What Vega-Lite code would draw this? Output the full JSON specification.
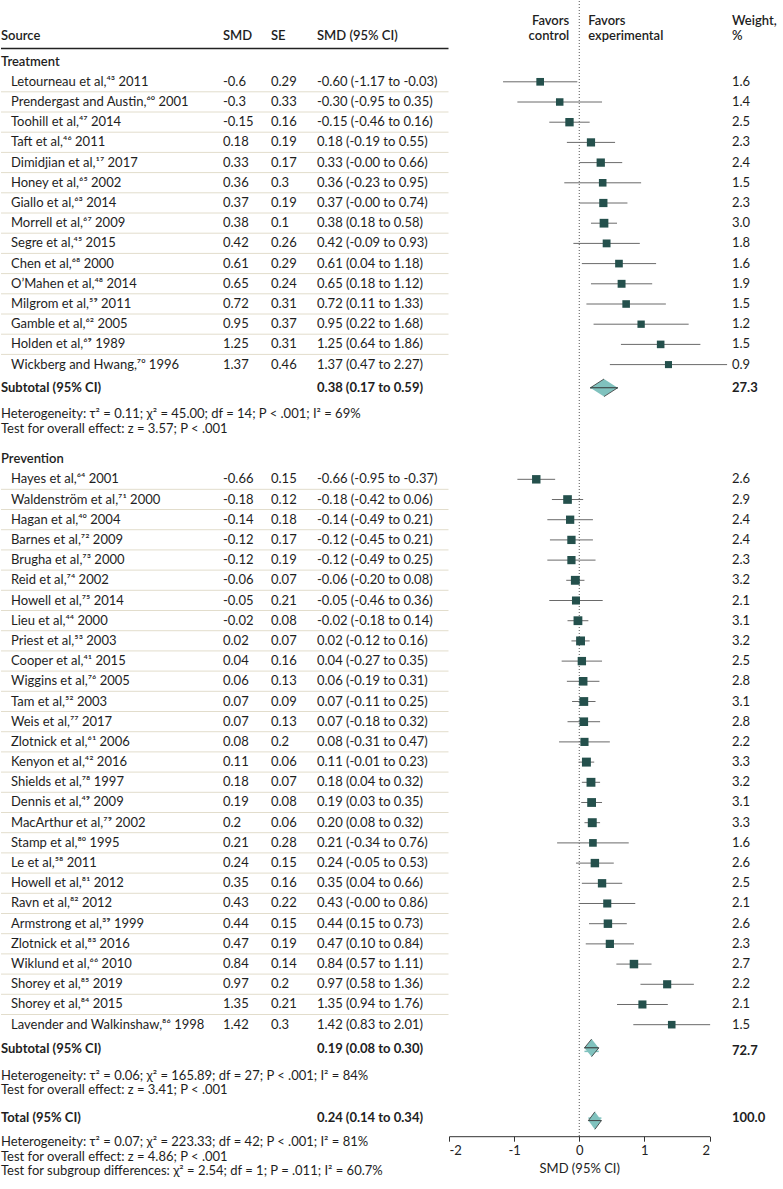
{
"$schema":"https://vega.github.io/schema/vega-lite/v6.json",
"padding":0,
"background":"white",
"config":{"view":{"stroke":null},"font":"Lato","text":{"fontSize":13,"color":"#1e1e1e"}},
"datasets":{
"A":[
{"i":1,"t":"group","src":"Treatment"},
{"i":2,"t":"study","src":"Letourneau et al,⁴³ 2011","smd":"-0.6","se":"0.29","ci":"-0.60 (-1.17 to -0.03)","est":-0.6,"lo":-1.17,"hi":-0.03,"w":1.6},
{"i":3,"t":"study","src":"Prendergast and Austin,⁶⁰ 2001","smd":"-0.3","se":"0.33","ci":"-0.30 (-0.95 to 0.35)","est":-0.3,"lo":-0.95,"hi":0.35,"w":1.4},
{"i":4,"t":"study","src":"Toohill et al,⁴⁷ 2014","smd":"-0.15","se":"0.16","ci":"-0.15 (-0.46 to 0.16)","est":-0.15,"lo":-0.46,"hi":0.16,"w":2.5},
{"i":5,"t":"study","src":"Taft et al,⁴⁶ 2011","smd":"0.18","se":"0.19","ci":"0.18 (-0.19 to 0.55)","est":0.18,"lo":-0.19,"hi":0.55,"w":2.3},
{"i":6,"t":"study","src":"Dimidjian et al,¹⁷ 2017","smd":"0.33","se":"0.17","ci":"0.33 (-0.00 to 0.66)","est":0.33,"lo":0.0,"hi":0.66,"w":2.4},
{"i":7,"t":"study","src":"Honey et al,⁶⁵ 2002","smd":"0.36","se":"0.3","ci":"0.36 (-0.23 to 0.95)","est":0.36,"lo":-0.23,"hi":0.95,"w":1.5},
{"i":8,"t":"study","src":"Giallo et al,⁶³ 2014","smd":"0.37","se":"0.19","ci":"0.37 (-0.00 to 0.74)","est":0.37,"lo":0.0,"hi":0.74,"w":2.3},
{"i":9,"t":"study","src":"Morrell et al,⁶⁷ 2009","smd":"0.38","se":"0.1","ci":"0.38 (0.18 to 0.58)","est":0.38,"lo":0.18,"hi":0.58,"w":3.0},
{"i":10,"t":"study","src":"Segre et al,⁴⁵ 2015","smd":"0.42","se":"0.26","ci":"0.42 (-0.09 to 0.93)","est":0.42,"lo":-0.09,"hi":0.93,"w":1.8},
{"i":11,"t":"study","src":"Chen et al,⁶⁸ 2000","smd":"0.61","se":"0.29","ci":"0.61 (0.04 to 1.18)","est":0.61,"lo":0.04,"hi":1.18,"w":1.6},
{"i":12,"t":"study","src":"O’Mahen et al,⁴⁸ 2014","smd":"0.65","se":"0.24","ci":"0.65 (0.18 to 1.12)","est":0.65,"lo":0.18,"hi":1.12,"w":1.9},
{"i":13,"t":"study","src":"Milgrom et al,⁵⁹ 2011","smd":"0.72","se":"0.31","ci":"0.72 (0.11 to 1.33)","est":0.72,"lo":0.11,"hi":1.33,"w":1.5},
{"i":14,"t":"study","src":"Gamble et al,⁶² 2005","smd":"0.95","se":"0.37","ci":"0.95 (0.22 to 1.68)","est":0.95,"lo":0.22,"hi":1.68,"w":1.2},
{"i":15,"t":"study","src":"Holden et al,⁶⁹ 1989","smd":"1.25","se":"0.31","ci":"1.25 (0.64 to 1.86)","est":1.25,"lo":0.64,"hi":1.86,"w":1.5},
{"i":16,"t":"study","src":"Wickberg and Hwang,⁷⁰ 1996","smd":"1.37","se":"0.46","ci":"1.37 (0.47 to 2.27)","est":1.37,"lo":0.47,"hi":2.27,"w":0.9},
{"i":17,"t":"sub","src":"Subtotal (95% CI)","ci":"0.38 (0.17 to 0.59)","est":0.38,"lo":0.17,"hi":0.59,"w":27.3},
{"i":18,"t":"het","src":"Heterogeneity: τ² = 0.11; χ² = 45.00; df = 14; P < .001; I² = 69%\nTest for overall effect: z = 3.57; P < .001"}
],
"B":[
{"i":-1,"t":"group","src":"Prevention"},
{"i":0,"t":"study","src":"Hayes et al,⁶⁴ 2001","smd":"-0.66","se":"0.15","ci":"-0.66 (-0.95 to -0.37)","est":-0.66,"lo":-0.95,"hi":-0.37,"w":2.6},
{"i":1,"t":"study","src":"Waldenström et al,⁷¹ 2000","smd":"-0.18","se":"0.12","ci":"-0.18 (-0.42 to 0.06)","est":-0.18,"lo":-0.42,"hi":0.06,"w":2.9},
{"i":2,"t":"study","src":"Hagan et al,⁴⁰ 2004","smd":"-0.14","se":"0.18","ci":"-0.14 (-0.49 to 0.21)","est":-0.14,"lo":-0.49,"hi":0.21,"w":2.4},
{"i":3,"t":"study","src":"Barnes et al,⁷² 2009","smd":"-0.12","se":"0.17","ci":"-0.12 (-0.45 to 0.21)","est":-0.12,"lo":-0.45,"hi":0.21,"w":2.4},
{"i":4,"t":"study","src":"Brugha et al,⁷³ 2000","smd":"-0.12","se":"0.19","ci":"-0.12 (-0.49 to 0.25)","est":-0.12,"lo":-0.49,"hi":0.25,"w":2.3},
{"i":5,"t":"study","src":"Reid et al,⁷⁴ 2002","smd":"-0.06","se":"0.07","ci":"-0.06 (-0.20 to 0.08)","est":-0.06,"lo":-0.2,"hi":0.08,"w":3.2},
{"i":6,"t":"study","src":"Howell et al,⁷⁵ 2014","smd":"-0.05","se":"0.21","ci":"-0.05 (-0.46 to 0.36)","est":-0.05,"lo":-0.46,"hi":0.36,"w":2.1},
{"i":7,"t":"study","src":"Lieu et al,⁴⁴ 2000","smd":"-0.02","se":"0.08","ci":"-0.02 (-0.18 to 0.14)","est":-0.02,"lo":-0.18,"hi":0.14,"w":3.1},
{"i":8,"t":"study","src":"Priest et al,⁵³ 2003","smd":"0.02","se":"0.07","ci":"0.02 (-0.12 to 0.16)","est":0.02,"lo":-0.12,"hi":0.16,"w":3.2},
{"i":9,"t":"study","src":"Cooper et al,⁴¹ 2015","smd":"0.04","se":"0.16","ci":"0.04 (-0.27 to 0.35)","est":0.04,"lo":-0.27,"hi":0.35,"w":2.5},
{"i":10,"t":"study","src":"Wiggins et al,⁷⁶ 2005","smd":"0.06","se":"0.13","ci":"0.06 (-0.19 to 0.31)","est":0.06,"lo":-0.19,"hi":0.31,"w":2.8},
{"i":11,"t":"study","src":"Tam et al,⁵² 2003","smd":"0.07","se":"0.09","ci":"0.07 (-0.11 to 0.25)","est":0.07,"lo":-0.11,"hi":0.25,"w":3.1},
{"i":12,"t":"study","src":"Weis et al,⁷⁷ 2017","smd":"0.07","se":"0.13","ci":"0.07 (-0.18 to 0.32)","est":0.07,"lo":-0.18,"hi":0.32,"w":2.8},
{"i":13,"t":"study","src":"Zlotnick et al,⁶¹ 2006","smd":"0.08","se":"0.2","ci":"0.08 (-0.31 to 0.47)","est":0.08,"lo":-0.31,"hi":0.47,"w":2.2},
{"i":14,"t":"study","src":"Kenyon et al,⁴² 2016","smd":"0.11","se":"0.06","ci":"0.11 (-0.01 to 0.23)","est":0.11,"lo":-0.01,"hi":0.23,"w":3.3},
{"i":15,"t":"study","src":"Shields et al,⁷⁸ 1997","smd":"0.18","se":"0.07","ci":"0.18 (0.04 to 0.32)","est":0.18,"lo":0.04,"hi":0.32,"w":3.2},
{"i":16,"t":"study","src":"Dennis et al,⁴⁹ 2009","smd":"0.19","se":"0.08","ci":"0.19 (0.03 to 0.35)","est":0.19,"lo":0.03,"hi":0.35,"w":3.1},
{"i":17,"t":"study","src":"MacArthur et al,⁷⁹ 2002","smd":"0.2","se":"0.06","ci":"0.20 (0.08 to 0.32)","est":0.2,"lo":0.08,"hi":0.32,"w":3.3},
{"i":18,"t":"study","src":"Stamp et al,⁸⁰ 1995","smd":"0.21","se":"0.28","ci":"0.21 (-0.34 to 0.76)","est":0.21,"lo":-0.34,"hi":0.76,"w":1.6},
{"i":19,"t":"study","src":"Le et al,⁵⁸ 2011","smd":"0.24","se":"0.15","ci":"0.24 (-0.05 to 0.53)","est":0.24,"lo":-0.05,"hi":0.53,"w":2.6},
{"i":20,"t":"study","src":"Howell et al,⁸¹ 2012","smd":"0.35","se":"0.16","ci":"0.35 (0.04 to 0.66)","est":0.35,"lo":0.04,"hi":0.66,"w":2.5},
{"i":21,"t":"study","src":"Ravn et al,⁸² 2012","smd":"0.43","se":"0.22","ci":"0.43 (-0.00 to 0.86)","est":0.43,"lo":0.0,"hi":0.86,"w":2.1},
{"i":22,"t":"study","src":"Armstrong et al,³⁹ 1999","smd":"0.44","se":"0.15","ci":"0.44 (0.15 to 0.73)","est":0.44,"lo":0.15,"hi":0.73,"w":2.6},
{"i":23,"t":"study","src":"Zlotnick et al,⁸³ 2016","smd":"0.47","se":"0.19","ci":"0.47 (0.10 to 0.84)","est":0.47,"lo":0.1,"hi":0.84,"w":2.3},
{"i":24,"t":"study","src":"Wiklund et al,⁶⁶ 2010","smd":"0.84","se":"0.14","ci":"0.84 (0.57 to 1.11)","est":0.84,"lo":0.57,"hi":1.11,"w":2.7},
{"i":25,"t":"study","src":"Shorey et al,⁸⁵ 2019","smd":"0.97","se":"0.2","ci":"0.97 (0.58 to 1.36)","est":1.35,"lo":0.94,"hi":1.76,"w":2.2},
{"i":26,"t":"study","src":"Shorey et al,⁸⁴ 2015","smd":"1.35","se":"0.21","ci":"1.35 (0.94 to 1.76)","est":0.97,"lo":0.58,"hi":1.36,"w":2.1},
{"i":27,"t":"study","src":"Lavender and Walkinshaw,⁸⁶ 1998","smd":"1.42","se":"0.3","ci":"1.42 (0.83 to 2.01)","est":1.42,"lo":0.83,"hi":2.01,"w":1.5},
{"i":28,"t":"sub","src":"Subtotal (95% CI)","ci":"0.19 (0.08 to 0.30)","est":0.19,"lo":0.08,"hi":0.3,"w":72.7},
{"i":29,"t":"het","src":"Heterogeneity: τ² = 0.06; χ² = 165.89; df = 27; P < .001; I² = 84%\nTest for overall effect: z = 3.41; P < .001"}
],
"C":[
{"i":0,"t":"total","src":"Total (95% CI)","ci":"0.24 (0.14 to 0.34)","est":0.24,"lo":0.14,"hi":0.34,"w":100},
{"i":1,"t":"het","src":"Heterogeneity: τ² = 0.07; χ² = 223.33; df = 42; P < .001; I² = 81%\nTest for overall effect: z = 4.86; P < .001\nTest for subgroup differences: χ² = 2.54; df = 1; P = .011; I² = 60.7%"}
],
"upper":[{"k":"lo","role":"edge"},{"k":"est","role":"top"},{"k":"hi","role":"edge"}],
"lower":[{"k":"lo","role":"edge"},{"k":"est","role":"bottom"},{"k":"hi","role":"edge"}]
},
"spacing":0,
"vconcat":[
{"spacing":0,"bounds":"flush","hconcat":[
{"width":222,"height":444.4,"data":{"name":"A"},
"encoding":{"x":{"datum":0,"type":"quantitative","scale":{"domain":[0,1],"nice":false,"zero":false},"axis":null},"y":{"field":"i","type":"quantitative","scale":{"domain":[-2,20],"reverse":true,"nice":false,"zero":false},"axis":null}},
"layer":[
{"data":{"values":[{"i":0,"h":"Source"}]},"mark":{"type":"text","align":"left","fontWeight":600,"dy":-5},"encoding":{"text":{"field":"h"}}},
{"data":{"values":[{"i":0}]},"mark":{"type":"rule","yOffset":7,"strokeWidth":1.5,"color":"#222"},"encoding":{"x2":{"datum":1}}},
{"transform":[{"filter":"datum.t==='study' && datum.i<16"}],"mark":{"type":"rule","yOffset":10,"strokeWidth":1,"color":"#e2ddcc"},"encoding":{"x2":{"datum":1}}},
{"transform":[{"filter":"datum.t==='group'"}],"mark":{"type":"text","align":"left","fontWeight":600},"encoding":{"text":{"field":"src"}}},
{"transform":[{"filter":"datum.t==='study'"}],"mark":{"type":"text","align":"left","dx":10},"encoding":{"text":{"field":"src"}}},
{"transform":[{"filter":"datum.t==='sub'"}],"mark":{"type":"text","align":"left","fontWeight":"bold","dy":3},"encoding":{"text":{"field":"src"}}},
{"transform":[{"filter":"datum.t==='het'"}],"mark":{"type":"text","align":"left","lineBreak":"\n","lineHeight":14.5,"dy":9},"encoding":{"text":{"field":"src"}}}
]},
{"width":48,"height":444.4,"data":{"name":"A"},
"encoding":{"x":{"datum":0,"type":"quantitative","scale":{"domain":[0,1],"nice":false,"zero":false},"axis":null},"y":{"field":"i","type":"quantitative","scale":{"domain":[-2,20],"reverse":true,"nice":false,"zero":false},"axis":null}},
"layer":[
{"data":{"values":[{"i":0,"h":"SMD"}]},"mark":{"type":"text","align":"left","fontWeight":600,"dy":-5},"encoding":{"text":{"field":"h"}}},
{"data":{"values":[{"i":0}]},"mark":{"type":"rule","yOffset":7,"strokeWidth":1.5,"color":"#222"},"encoding":{"x2":{"datum":1}}},
{"transform":[{"filter":"datum.t==='study' && datum.i<16"}],"mark":{"type":"rule","yOffset":10,"strokeWidth":1,"color":"#e2ddcc"},"encoding":{"x2":{"datum":1}}},
{"transform":[{"filter":"datum.t==='study'"}],"mark":{"type":"text","align":"left"},"encoding":{"text":{"field":"smd"}}}
]},
{"width":46,"height":444.4,"data":{"name":"A"},
"encoding":{"x":{"datum":0,"type":"quantitative","scale":{"domain":[0,1],"nice":false,"zero":false},"axis":null},"y":{"field":"i","type":"quantitative","scale":{"domain":[-2,20],"reverse":true,"nice":false,"zero":false},"axis":null}},
"layer":[
{"data":{"values":[{"i":0,"h":"SE"}]},"mark":{"type":"text","align":"left","fontWeight":600,"dy":-5},"encoding":{"text":{"field":"h"}}},
{"data":{"values":[{"i":0}]},"mark":{"type":"rule","yOffset":7,"strokeWidth":1.5,"color":"#222"},"encoding":{"x2":{"datum":1}}},
{"transform":[{"filter":"datum.t==='study' && datum.i<16"}],"mark":{"type":"rule","yOffset":10,"strokeWidth":1,"color":"#e2ddcc"},"encoding":{"x2":{"datum":1}}},
{"transform":[{"filter":"datum.t==='study'"}],"mark":{"type":"text","align":"left"},"encoding":{"text":{"field":"se"}}}
]},
{"width":131.5,"height":444.4,"data":{"name":"A"},
"encoding":{"x":{"datum":0,"type":"quantitative","scale":{"domain":[0,1],"nice":false,"zero":false},"axis":null},"y":{"field":"i","type":"quantitative","scale":{"domain":[-2,20],"reverse":true,"nice":false,"zero":false},"axis":null}},
"layer":[
{"data":{"values":[{"i":0,"h":"SMD (95% CI)"}]},"mark":{"type":"text","align":"left","fontWeight":600,"dy":-5},"encoding":{"text":{"field":"h"}}},
{"data":{"values":[{"i":0}]},"mark":{"type":"rule","yOffset":7,"strokeWidth":1.5,"color":"#222"},"encoding":{"x2":{"datum":1}}},
{"transform":[{"filter":"datum.t==='study' && datum.i<16"}],"mark":{"type":"rule","yOffset":10,"strokeWidth":1,"color":"#e2ddcc"},"encoding":{"x2":{"datum":1}}},
{"transform":[{"filter":"datum.t==='study'"}],"mark":{"type":"text","align":"left"},"encoding":{"text":{"field":"ci"}}},
{"transform":[{"filter":"datum.t==='sub'"}],"mark":{"type":"text","align":"left","fontWeight":"bold","dy":3},"encoding":{"text":{"field":"ci"}}}
]},
{"width":260.5,"height":444.4,"data":{"name":"A"},
"layer":[
{"data":{"values":[{"z":0}]},"mark":{"type":"rule","strokeDash":[1,2],"color":"#555"},"encoding":{"x":{"datum":0,"type":"quantitative","scale":{"domain":[-2,2],"nice":false,"zero":false},"axis":null}}},
{"data":{"values":[{"i":0,"h":"Favors\ncontrol"}]},"mark":{"type":"text","align":"right","dx":-10,"dy":-20,"lineBreak":"\n","lineHeight":15,"fontWeight":600},"encoding":{"x":{"datum":0,"type":"quantitative"},"y":{"field":"i","type":"ordinal","scale":{"type":"point","domain":[-2,-1,0,1,2,3,4,5,6,7,8,9,10,11,12,13,14,15,16,17,18,19,20],"padding":0},"axis":null},"text":{"field":"h"}}},
{"data":{"values":[{"i":0,"h":"Favors\nexperimental"}]},"mark":{"type":"text","align":"left","dx":9,"dy":-20,"lineBreak":"\n","lineHeight":15,"fontWeight":600},"encoding":{"x":{"datum":0,"type":"quantitative"},"y":{"field":"i","type":"ordinal","scale":{"type":"point","domain":[-2,-1,0,1,2,3,4,5,6,7,8,9,10,11,12,13,14,15,16,17,18,19,20],"padding":0},"axis":null},"text":{"field":"h"}}},
{"transform":[{"filter":"datum.t==='study'"}],"mark":{"type":"rule","color":"#6a6a6a","strokeWidth":1},"encoding":{"x":{"field":"lo","type":"quantitative"},"x2":{"field":"hi"},"y":{"field":"i","type":"ordinal","scale":{"type":"point","domain":[-2,-1,0,1,2,3,4,5,6,7,8,9,10,11,12,13,14,15,16,17,18,19,20],"padding":0},"axis":null}}},
{"transform":[{"filter":"datum.t==='study'"}],"mark":{"type":"point","shape":"square","filled":true,"color":"#24504c","opacity":1},"encoding":{"x":{"field":"est","type":"quantitative"},"y":{"field":"i","type":"ordinal","scale":{"type":"point","domain":[-2,-1,0,1,2,3,4,5,6,7,8,9,10,11,12,13,14,15,16,17,18,19,20],"padding":0},"axis":null},"size":{"field":"w","type":"quantitative","scale":{"domain":[0.9,3.3],"range":[50,80],"zero":false},"legend":null}}},
{"transform":[{"filter":"datum.t==='sub'"}],"mark":{"type":"rule","color":"#80c2be","strokeWidth":1.5,"yOffset":3},"encoding":{"x":{"field":"lo","type":"quantitative"},"x2":{"field":"hi"},"y":{"field":"i","type":"ordinal","scale":{"type":"point","domain":[-2,-1,0,1,2,3,4,5,6,7,8,9,10,11,12,13,14,15,16,17,18,19,20],"padding":0},"axis":null}}},
{"transform":[{"filter":"datum.t==='sub'"},{"fold":["lo","est","hi"],"as":["k","v"]},{"lookup":"k","from":{"data":{"name":"upper"},"key":"k","fields":["role"]}}],"mark":{"type":"line","fill":"#80c2be","stroke":"#333","strokeWidth":0.8},"encoding":{"x":{"field":"v","type":"quantitative"},"y":{"field":"i","type":"ordinal","scale":{"type":"point","domain":[-2,-1,0,1,2,3,4,5,6,7,8,9,10,11,12,13,14,15,16,17,18,19,20],"padding":0},"axis":null},"yOffset":{"field":"role","type":"nominal","scale":{"type":"point","domain":["top","edge","bottom"],"range":[-5.8,11.8],"padding":0}}}},
{"transform":[{"filter":"datum.t==='sub'"},{"fold":["lo","est","hi"],"as":["k","v"]},{"lookup":"k","from":{"data":{"name":"lower"},"key":"k","fields":["role"]}}],"mark":{"type":"line","fill":"#80c2be","stroke":"#333","strokeWidth":0.8},"encoding":{"x":{"field":"v","type":"quantitative"},"y":{"field":"i","type":"ordinal","scale":{"type":"point","domain":[-2,-1,0,1,2,3,4,5,6,7,8,9,10,11,12,13,14,15,16,17,18,19,20],"padding":0},"axis":null},"yOffset":{"field":"role","type":"nominal","scale":{"type":"point","domain":["top","edge","bottom"],"range":[-5.8,11.8],"padding":0}}}}
]},
{"width":75,"height":444.4,"data":{"name":"A"},
"encoding":{"x":{"datum":0,"type":"quantitative","scale":{"domain":[0,1],"nice":false,"zero":false},"axis":null},"y":{"field":"i","type":"quantitative","scale":{"domain":[-2,20],"reverse":true,"nice":false,"zero":false},"axis":null}},
"layer":[
{"data":{"values":[{"i":0,"h":"Weight,\n%"}]},"mark":{"type":"text","align":"left","dx":22,"dy":-20,"lineBreak":"\n","lineHeight":15,"fontWeight":600},"encoding":{"text":{"field":"h"}}},
{"transform":[{"filter":"datum.t==='study'"}],"mark":{"type":"text","align":"left","dx":22},"encoding":{"text":{"field":"w","type":"quantitative","format":".1f"}}},
{"transform":[{"filter":"datum.t==='sub'"}],"mark":{"type":"text","align":"left","dx":22,"dy":3,"fontWeight":"bold"},"encoding":{"text":{"field":"w","type":"quantitative","format":".1f"}}}
]}
]},
{"spacing":0,"bounds":"flush","hconcat":[
{"width":222,"height":650.4,"data":{"name":"B"},
"encoding":{"x":{"datum":0,"type":"quantitative","scale":{"domain":[0,1],"nice":false,"zero":false},"axis":null},"y":{"field":"i","type":"quantitative","scale":{"domain":[-1.6,30.6],"reverse":true,"nice":false,"zero":false},"axis":null}},
"layer":[
{"transform":[{"filter":"datum.t==='study' && datum.i<27"}],"mark":{"type":"rule","yOffset":10,"strokeWidth":1,"color":"#e2ddcc"},"encoding":{"x2":{"datum":1}}},
{"transform":[{"filter":"datum.t==='group'"}],"mark":{"type":"text","align":"left","fontWeight":600},"encoding":{"text":{"field":"src"}}},
{"transform":[{"filter":"datum.t==='study'"}],"mark":{"type":"text","align":"left","dx":10},"encoding":{"text":{"field":"src"}}},
{"transform":[{"filter":"datum.t==='sub'"}],"mark":{"type":"text","align":"left","fontWeight":"bold","dy":4.5},"encoding":{"text":{"field":"src"}}},
{"transform":[{"filter":"datum.t==='het'"}],"mark":{"type":"text","align":"left","lineBreak":"\n","lineHeight":14.5,"dy":10.5},"encoding":{"text":{"field":"src"}}}
]},
{"width":48,"height":650.4,"data":{"name":"B"},
"encoding":{"x":{"datum":0,"type":"quantitative","scale":{"domain":[0,1],"nice":false,"zero":false},"axis":null},"y":{"field":"i","type":"quantitative","scale":{"domain":[-1.6,30.6],"reverse":true,"nice":false,"zero":false},"axis":null}},
"layer":[
{"transform":[{"filter":"datum.t==='study' && datum.i<27"}],"mark":{"type":"rule","yOffset":10,"strokeWidth":1,"color":"#e2ddcc"},"encoding":{"x2":{"datum":1}}},
{"transform":[{"filter":"datum.t==='study'"}],"mark":{"type":"text","align":"left"},"encoding":{"text":{"field":"smd"}}}
]},
{"width":46,"height":650.4,"data":{"name":"B"},
"encoding":{"x":{"datum":0,"type":"quantitative","scale":{"domain":[0,1],"nice":false,"zero":false},"axis":null},"y":{"field":"i","type":"quantitative","scale":{"domain":[-1.6,30.6],"reverse":true,"nice":false,"zero":false},"axis":null}},
"layer":[
{"transform":[{"filter":"datum.t==='study' && datum.i<27"}],"mark":{"type":"rule","yOffset":10,"strokeWidth":1,"color":"#e2ddcc"},"encoding":{"x2":{"datum":1}}},
{"transform":[{"filter":"datum.t==='study'"}],"mark":{"type":"text","align":"left"},"encoding":{"text":{"field":"se"}}}
]},
{"width":131.5,"height":650.4,"data":{"name":"B"},
"encoding":{"x":{"datum":0,"type":"quantitative","scale":{"domain":[0,1],"nice":false,"zero":false},"axis":null},"y":{"field":"i","type":"quantitative","scale":{"domain":[-1.6,30.6],"reverse":true,"nice":false,"zero":false},"axis":null}},
"layer":[
{"transform":[{"filter":"datum.t==='study' && datum.i<27"}],"mark":{"type":"rule","yOffset":10,"strokeWidth":1,"color":"#e2ddcc"},"encoding":{"x2":{"datum":1}}},
{"transform":[{"filter":"datum.t==='study'"}],"mark":{"type":"text","align":"left"},"encoding":{"text":{"field":"ci"}}},
{"transform":[{"filter":"datum.t==='sub'"}],"mark":{"type":"text","align":"left","fontWeight":"bold","dy":4.5},"encoding":{"text":{"field":"ci"}}}
]},
{"width":260.5,"height":650.4,"data":{"name":"B"},
"layer":[
{"data":{"values":[{"z":0}]},"mark":{"type":"rule","strokeDash":[1,2],"color":"#555"},"encoding":{"x":{"datum":0,"type":"quantitative","scale":{"domain":[-2,2],"nice":false,"zero":false},"axis":null}}},
{"transform":[{"filter":"datum.t==='study'"}],"mark":{"type":"rule","color":"#6a6a6a","strokeWidth":1},"encoding":{"x":{"field":"lo","type":"quantitative"},"x2":{"field":"hi"},"y":{"field":"i","type":"ordinal","scale":{"type":"point","domain":[-1,0,1,2,3,4,5,6,7,8,9,10,11,12,13,14,15,16,17,18,19,20,21,22,23,24,25,26,27,28,29,30],"padding":0.6},"axis":null}}},
{"transform":[{"filter":"datum.t==='study'"}],"mark":{"type":"point","shape":"square","filled":true,"color":"#24504c","opacity":1},"encoding":{"x":{"field":"est","type":"quantitative"},"y":{"field":"i","type":"ordinal","scale":{"type":"point","domain":[-1,0,1,2,3,4,5,6,7,8,9,10,11,12,13,14,15,16,17,18,19,20,21,22,23,24,25,26,27,28,29,30],"padding":0.6},"axis":null},"size":{"field":"w","type":"quantitative","scale":{"domain":[0.9,3.3],"range":[50,80],"zero":false},"legend":null}}},
{"transform":[{"filter":"datum.t==='sub'"}],"mark":{"type":"rule","color":"#80c2be","strokeWidth":1.5,"yOffset":6.5},"encoding":{"x":{"field":"lo","type":"quantitative"},"x2":{"field":"hi"},"y":{"field":"i","type":"ordinal","scale":{"type":"point","domain":[-1,0,1,2,3,4,5,6,7,8,9,10,11,12,13,14,15,16,17,18,19,20,21,22,23,24,25,26,27,28,29,30],"padding":0.6},"axis":null}}},
{"transform":[{"filter":"datum.t==='sub'"},{"fold":["lo","est","hi"],"as":["k","v"]},{"lookup":"k","from":{"data":{"name":"upper"},"key":"k","fields":["role"]}}],"mark":{"type":"line","fill":"#80c2be","stroke":"#333","strokeWidth":0.8},"encoding":{"x":{"field":"v","type":"quantitative"},"y":{"field":"i","type":"ordinal","scale":{"type":"point","domain":[-1,0,1,2,3,4,5,6,7,8,9,10,11,12,13,14,15,16,17,18,19,20,21,22,23,24,25,26,27,28,29,30],"padding":0.6},"axis":null},"yOffset":{"field":"role","type":"nominal","scale":{"type":"point","domain":["top","edge","bottom"],"range":[-1.5,14.5],"padding":0}}}},
{"transform":[{"filter":"datum.t==='sub'"},{"fold":["lo","est","hi"],"as":["k","v"]},{"lookup":"k","from":{"data":{"name":"lower"},"key":"k","fields":["role"]}}],"mark":{"type":"line","fill":"#80c2be","stroke":"#333","strokeWidth":0.8},"encoding":{"x":{"field":"v","type":"quantitative"},"y":{"field":"i","type":"ordinal","scale":{"type":"point","domain":[-1,0,1,2,3,4,5,6,7,8,9,10,11,12,13,14,15,16,17,18,19,20,21,22,23,24,25,26,27,28,29,30],"padding":0.6},"axis":null},"yOffset":{"field":"role","type":"nominal","scale":{"type":"point","domain":["top","edge","bottom"],"range":[-1.5,14.5],"padding":0}}}}
]},
{"width":75,"height":650.4,"data":{"name":"B"},
"encoding":{"x":{"datum":0,"type":"quantitative","scale":{"domain":[0,1],"nice":false,"zero":false},"axis":null},"y":{"field":"i","type":"quantitative","scale":{"domain":[-1.6,30.6],"reverse":true,"nice":false,"zero":false},"axis":null}},
"layer":[
{"transform":[{"filter":"datum.t==='study'"}],"mark":{"type":"text","align":"left","dx":22},"encoding":{"text":{"field":"w","type":"quantitative","format":".1f"}}},
{"transform":[{"filter":"datum.t==='sub'"}],"mark":{"type":"text","align":"left","dx":22,"dy":6.5,"fontWeight":"bold"},"encoding":{"text":{"field":"w","type":"quantitative","format":".1f"}}}
]}
]},
{"spacing":0,"bounds":"flush","hconcat":[
{"width":316,"height":37.2,"data":{"name":"C"},
"encoding":{"x":{"datum":0,"type":"quantitative","scale":{"domain":[0,1],"nice":false,"zero":false},"axis":null},"y":{"field":"i","type":"quantitative","scale":{"domain":[-0.92,0.92],"reverse":true,"nice":false,"zero":false},"axis":null}},
"layer":[
{"transform":[{"filter":"datum.t==='total'"}],"mark":{"type":"text","align":"left","fontWeight":"bold"},"encoding":{"text":{"field":"src"}}},
{"transform":[{"filter":"datum.t==='het'"}],"mark":{"type":"text","align":"left","lineBreak":"\n","lineHeight":14.5,"dy":4.5},"encoding":{"text":{"field":"src"}}}
]},
{"width":131.5,"height":37.2,"data":{"name":"C"},
"encoding":{"x":{"datum":0,"type":"quantitative","scale":{"domain":[0,1],"nice":false,"zero":false},"axis":null},"y":{"field":"i","type":"quantitative","scale":{"domain":[-0.92,0.92],"reverse":true,"nice":false,"zero":false},"axis":null}},
"layer":[
{"transform":[{"filter":"datum.t==='total'"}],"mark":{"type":"text","align":"left","fontWeight":"bold"},"encoding":{"text":{"field":"ci"}}}
]},
{"width":260.5,"height":37.2,"data":{"name":"C"},
"layer":[
{"data":{"values":[{"z":0}]},"mark":{"type":"rule","strokeDash":[1,2],"color":"#555"},"encoding":{"x":{"datum":0,"type":"quantitative","scale":{"domain":[-2,2],"nice":false,"zero":false},"axis":{"values":[-2,-1,0,1,2],"title":"SMD (95% CI)","grid":false,"domainColor":"#333","tickColor":"#333","tickSize":5,"labelFontSize":13,"titleFontSize":13,"titleFontWeight":"normal","labelColor":"#222","titleColor":"#222","labelExpr":"'' + datum.value","labelPadding":3,"titlePadding":5,"labelFont":"Lato","titleFont":"Lato"}}}},
{"transform":[{"filter":"datum.t==='total'"}],"mark":{"type":"rule","color":"#80c2be","strokeWidth":1.5,"yOffset":0.5},"encoding":{"x":{"field":"lo","type":"quantitative"},"x2":{"field":"hi"},"y":{"field":"i","type":"ordinal","scale":{"type":"point","domain":[0],"padding":0.9},"axis":null}}},
{"transform":[{"filter":"datum.t==='total'"},{"fold":["lo","est","hi"],"as":["k","v"]},{"lookup":"k","from":{"data":{"name":"upper"},"key":"k","fields":["role"]}}],"mark":{"type":"line","fill":"#80c2be","stroke":"#333","strokeWidth":0.8},"encoding":{"x":{"field":"v","type":"quantitative"},"y":{"field":"i","type":"ordinal","scale":{"type":"point","domain":[0],"padding":0.9},"axis":null},"yOffset":{"field":"role","type":"nominal","scale":{"type":"point","domain":["top","edge","bottom"],"range":[-7.5,8.5],"padding":0}}}},
{"transform":[{"filter":"datum.t==='total'"},{"fold":["lo","est","hi"],"as":["k","v"]},{"lookup":"k","from":{"data":{"name":"lower"},"key":"k","fields":["role"]}}],"mark":{"type":"line","fill":"#80c2be","stroke":"#333","strokeWidth":0.8},"encoding":{"x":{"field":"v","type":"quantitative"},"y":{"field":"i","type":"ordinal","scale":{"type":"point","domain":[0],"padding":0.9},"axis":null},"yOffset":{"field":"role","type":"nominal","scale":{"type":"point","domain":["top","edge","bottom"],"range":[-7.5,8.5],"padding":0}}}}
]},
{"width":75,"height":37.2,"data":{"name":"C"},
"encoding":{"x":{"datum":0,"type":"quantitative","scale":{"domain":[0,1],"nice":false,"zero":false},"axis":null},"y":{"field":"i","type":"quantitative","scale":{"domain":[-0.92,0.92],"reverse":true,"nice":false,"zero":false},"axis":null}},
"layer":[
{"transform":[{"filter":"datum.t==='total'"}],"mark":{"type":"text","align":"left","dx":22,"fontWeight":"bold"},"encoding":{"text":{"field":"w","type":"quantitative","format":".1f"}}}
]}
]}
]
}
